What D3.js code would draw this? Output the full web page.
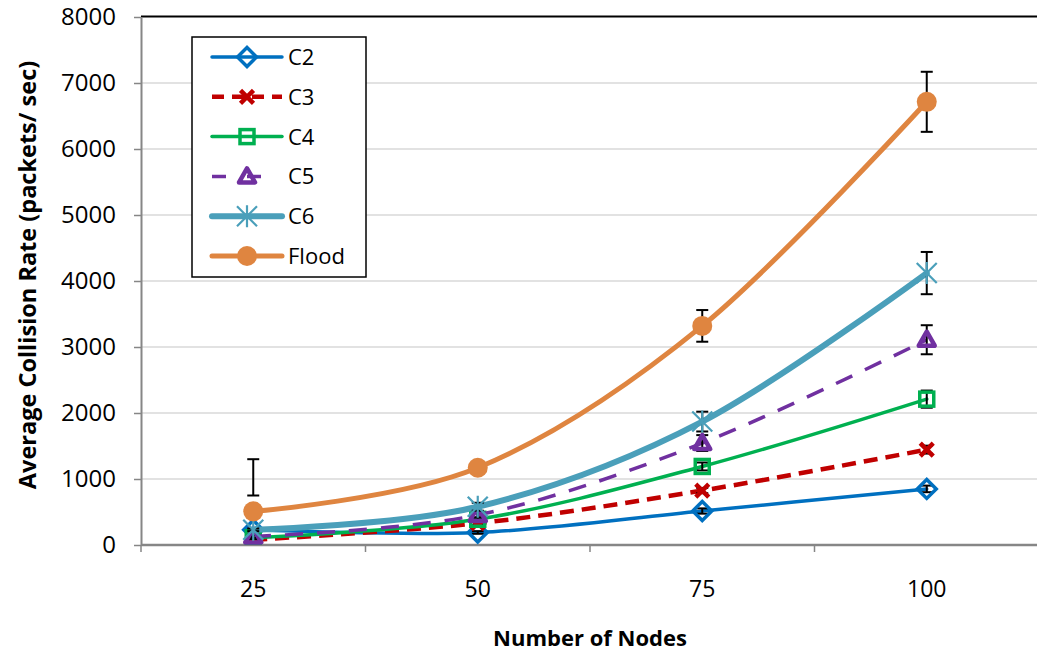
<!DOCTYPE html>
<html>
<head>
<meta charset="utf-8">
<script src="https://cdn.jsdelivr.net/npm/d3@7/dist/d3.min.js"></script>
<style>
  html, body { margin: 0; padding: 0; background: #fff; }
  svg { display: block; font-family: "Open Sans", "Noto Sans", sans-serif; }
</style>
</head>
<body>
<svg id="chart" width="1037" height="653"></svg>
<script>
// Number of nodes on the x axis
const nodes = ["25", "50", "75", "100"];
const yTicks = [0, 1000, 2000, 3000, 4000, 5000, 6000, 7000, 8000];

// Average collision rate (packets/sec) per scheme
const c2 = [230, 190, 515, 850];
const c3 = [80, 330, 825, 1445];
const c4 = [110, 390, 1190, 2210];
const c5 = [130, 455, 1545, 3110];
const c6 = [230, 580, 1870, 4120];
const flood = [510, 1170, 3320, 6715];

// Error bar bounds (low / high) per scheme
const c2Low = [210, 170, 475, 800];
const c2High = [250, 210, 555, 900];
const c3Low = [60, 300, 785, 1385];
const c3High = [100, 360, 865, 1505];
const c4Low = [90, 360, 1130, 2080];
const c4High = [130, 420, 1250, 2340];
const c5Low = [110, 415, 1425, 2890];
const c5High = [150, 495, 1665, 3330];
const c6Low = [210, 520, 1720, 3800];
const c6High = [250, 640, 2020, 4440];
const floodLow = [750, 1120, 3080, 6260];
const floodHigh = [1300, 1230, 3560, 7170];

const seriesNames = ["C2", "C3", "C4", "C5", "C6", "Flood"];

const series = [
  { name: "C2", values: c2, lo: c2Low, hi: c2High, color: "#0070C0", width: 3.5, dash: null, marker: "diamond" },
  { name: "C3", values: c3, lo: c3Low, hi: c3High, color: "#C00000", width: 4.5, dash: "14,8", marker: "x" },
  { name: "C4", values: c4, lo: c4Low, hi: c4High, color: "#00B050", width: 3.5, dash: null, marker: "square" },
  { name: "C5", values: c5, lo: c5Low, hi: c5High, color: "#7030A0", width: 3.5, dash: "18,14", marker: "triangle" },
  { name: "C6", values: c6, lo: c6Low, hi: c6High, color: "#4A9FBA", width: 6, dash: null, marker: "star" },
  { name: "Flood", values: flood, lo: floodLow, hi: floodHigh, color: "#DF8540", width: 5, dash: null, marker: "circle" }
];

const svg = d3.select("#chart");
const plot = { left: 141, right: 1039, top: 17, bottom: 545 };

const x = d3.scaleBand().domain(nodes).range([plot.left, plot.right]);
const y = d3.scaleLinear().domain([0, 8000]).range([plot.bottom, plot.top]);
const cx = d => x(d) + x.bandwidth() / 2;

svg.append("defs").append("clipPath").attr("id", "plotClip")
  .append("rect").attr("x", plot.left).attr("y", plot.top)
  .attr("width", plot.right - plot.left).attr("height", plot.bottom - plot.top);

// Horizontal gridlines
svg.append("g").selectAll("line").data(yTicks.filter(t => t > 0 && t < 8000)).join("line")
  .attr("x1", plot.left).attr("x2", plot.right)
  .attr("y1", d => y(d)).attr("y2", d => y(d))
  .attr("stroke", "#D9D9D9").attr("stroke-width", 1.5);

// Top border of the plot area
svg.append("line")
  .attr("x1", plot.left).attr("x2", plot.right)
  .attr("y1", plot.top - 0.5).attr("y2", plot.top - 0.5)
  .attr("stroke", "#000").attr("stroke-width", 2);

// Y axis
const yAxis = svg.append("g").attr("transform", `translate(${plot.left},0)`)
  .call(d3.axisLeft(y).tickValues(yTicks).tickFormat(d3.format("d"))
    .tickSize(7).tickSizeOuter(0).tickPadding(18));
yAxis.select(".domain").attr("stroke", "#868686").attr("stroke-width", 2);
yAxis.selectAll(".tick line").attr("stroke", "#868686").attr("stroke-width", 1.5);
yAxis.selectAll(".tick text").attr("font-size", 24).attr("fill", "#000")
  .attr("font-family", "'Open Sans', sans-serif");

// X axis with ticks at category boundaries
const xAxisG = svg.append("g").attr("transform", `translate(0,${plot.bottom})`);
xAxisG.append("line").attr("x1", plot.left).attr("x2", plot.right)
  .attr("y1", 0).attr("y2", 0).attr("stroke", "#868686").attr("stroke-width", 2.5);
xAxisG.selectAll("line.tk").data(nodes).join("line").attr("class", "tk")
  .attr("x1", d => x(d)).attr("x2", d => x(d))
  .attr("y1", 0).attr("y2", 7).attr("stroke", "#868686").attr("stroke-width", 1.5);
xAxisG.selectAll("text").data(nodes).join("text")
  .attr("x", d => cx(d)).attr("y", 52)
  .attr("text-anchor", "middle").attr("font-size", 23).attr("fill", "#000")
  .text(d => d);

// Axis titles
svg.append("text")
  .attr("x", 590).attr("y", 646)
  .attr("text-anchor", "middle").attr("font-size", 22).attr("font-weight", "bold")
  .text("Number of Nodes");
svg.append("text")
  .attr("transform", "translate(36,275) rotate(-90)")
  .attr("text-anchor", "middle").attr("font-size", 23.5).attr("font-weight", "bold")
  .text("Average Collision Rate (packets/ sec)");

// Marker drawing
function drawMarker(g, type, color, px, py) {
  if (type === "diamond") {
    const s = 9.5;
    g.append("path").attr("d", `M${px},${py - s}L${px + s},${py}L${px},${py + s}L${px - s},${py}Z`)
      .attr("fill", "none").attr("stroke", color).attr("stroke-width", 3.5);
  } else if (type === "x") {
    const s = 6.5;
    g.append("path").attr("d", `M${px - s},${py - s}L${px + s},${py + s}M${px - s},${py + s}L${px + s},${py - s}`)
      .attr("stroke", color).attr("stroke-width", 4.5);
  } else if (type === "square") {
    const s = 7;
    g.append("rect").attr("x", px - s).attr("y", py - s).attr("width", 2 * s).attr("height", 2 * s)
      .attr("fill", "none").attr("stroke", color).attr("stroke-width", 3.5);
  } else if (type === "triangle") {
    const s = 8;
    g.append("path").attr("d", `M${px},${py - s}L${px + s},${py + s * 0.75}L${px - s},${py + s * 0.75}Z`)
      .attr("fill", "none").attr("stroke", color).attr("stroke-width", 4.5).attr("stroke-linejoin", "round");
  } else if (type === "star") {
    const s = 10;
    g.append("path").attr("d", `M${px - s},${py - s}L${px + s},${py + s}M${px - s},${py + s}L${px + s},${py - s}M${px},${py - s * 1.1}L${px},${py + s * 1.1}`)
      .attr("stroke", color).attr("stroke-width", 2.2);
  } else if (type === "circle") {
    g.append("circle").attr("cx", px).attr("cy", py).attr("r", 10).attr("fill", color);
  }
}

const line = d3.line()
  .x((d, i) => cx(nodes[i]))
  .y(d => y(d))
  .curve(d3.curveCatmullRom.alpha(0));

const plotG = svg.append("g").attr("clip-path", "url(#plotClip)");

series.forEach(s => {
  const g = plotG.append("g");
  g.append("path").datum(s.values).attr("d", line)
    .attr("fill", "none").attr("stroke", s.color).attr("stroke-width", s.width)
    .attr("stroke-dasharray", s.dash).attr("stroke-linecap", s.dash ? "butt" : "round");
  // error bars
  nodes.forEach((n, i) => {
    const px = cx(n);
    const eb = g.append("g").attr("stroke", "#000").attr("stroke-width", 2);
    eb.append("line").attr("x1", px).attr("x2", px).attr("y1", y(s.lo[i])).attr("y2", y(s.hi[i]));
    eb.append("line").attr("x1", px - 6).attr("x2", px + 6).attr("y1", y(s.lo[i])).attr("y2", y(s.lo[i]));
    eb.append("line").attr("x1", px - 6).attr("x2", px + 6).attr("y1", y(s.hi[i])).attr("y2", y(s.hi[i]));
  });
  nodes.forEach((n, i) => drawMarker(g, s.marker, s.color, cx(n), y(s.values[i])));
});

// Legend
const legend = svg.append("g");
legend.append("rect").attr("x", 192).attr("y", 37).attr("width", 174).attr("height", 240)
  .attr("fill", "#fff").attr("stroke", "#000").attr("stroke-width", 1.5);
seriesNames.forEach((name, i) => {
  const s = series[i];
  const ly = 57 + i * 39.8;
  const legendDash = s.name === "C3" ? "12,8" : (s.name === "C5" ? "14,21" : null);
  legend.append("line").attr("x1", 212).attr("x2", 282).attr("y1", ly).attr("y2", ly)
    .attr("stroke", s.color).attr("stroke-width", s.width)
    .attr("stroke-dasharray", legendDash).attr("stroke-linecap", legendDash ? "butt" : "round");
  drawMarker(legend, s.marker, s.color, 247, ly);
  legend.append("text").attr("x", 288).attr("y", ly + 8)
    .attr("font-size", 22).attr("fill", "#000").text(name);
});
</script>
</body>
</html>
